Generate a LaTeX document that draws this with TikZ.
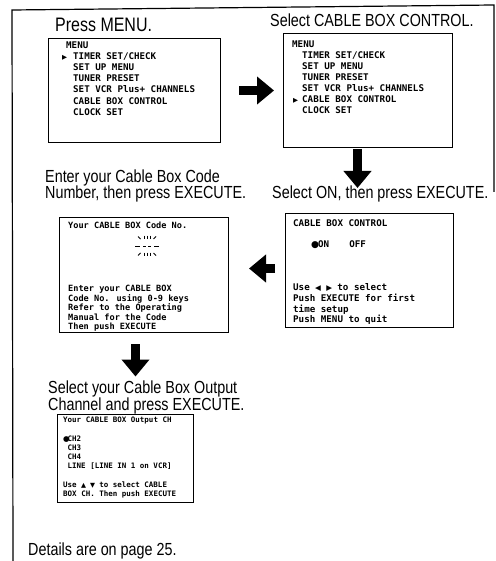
\documentclass[tikz,border=0pt]{standalone}
\usepackage{graphicx}
\usepackage{fontspec}
\setmainfont{Liberation Sans}
\newfontfamily\ttlfont{Liberation Sans}[FakeStretch=0.82]
\newfontfamily\scrfont{DejaVu Sans Mono}
\newfontfamily\symfont{DejaVu Sans}
\usetikzlibrary{arrows.meta}
\newcommand\ptrmark{\makebox[9pt][l]{\symfont\fontsize{6.5}{6.5}\selectfont ▶}}
\newcommand\smallsym[1]{\makebox[5.5pt][c]{\symfont\fontsize{7.5}{7.5}\selectfont #1}}
\tikzset{
  frame/.style={line width=1.2pt},
  scrbox/.style={draw, line width=1pt, inner sep=0pt, anchor=north west},
  scrtext/.style={anchor=north west, inner sep=0pt, align=left},
  ttl/.style={anchor=base west, inner sep=0pt, text height=12pt, text depth=2.5pt,
              font=\ttlfont\fontsize{17.5}{18}\selectfont},
  bigarrow/.style={line width=9pt, -{Triangle[length=17pt 0 0, width=27pt 0 0]}},
  blink/.style={line width=0.8pt}
}
\begin{document}
\begin{tikzpicture}[x=1pt,y=-1pt]
\useasboundingbox (0,0) rectangle (495,561);
\fill[white] (0,0) rectangle (495,561);
% outer frame
\draw[frame] (13,561) -- (12,10) -- (494,5) -- (494,192);

% titles
\node[ttl, font=\ttlfont\fontsize{19.5}{20}\selectfont] (t1) at (55,31.5) {Press MENU.};
\node[ttl] (t2) at (270,26.7) {Select CABLE BOX CONTROL.};
\node[ttl] (t3) at (272,198) {Select ON, then press EXECUTE.};
\node[ttl] (t4a) at (45,182.5) {Enter your Cable Box Code};
\node[ttl] (t4b) at (45,199) {Number, then press EXECUTE.};
\node[ttl] (t5a) at (48,393.5) {Select your Cable Box Output};
\node[ttl] (t5b) at (48,410) {Channel and press EXECUTE.};
\node[ttl] (t6) at (28,555) {Details are on page 25.};

% screens
\node[scrbox, minimum width=172pt, minimum height=104pt] (b1) at (48,38) {};
\node[scrbox, minimum width=169pt, minimum height=114pt] (b2) at (283,33) {};
\node[scrbox, minimum width=168pt, minimum height=114pt] (b3) at (285,213) {};
\node[scrbox, minimum width=169pt, minimum height=115pt] (b4) at (59,217) {};
\node[scrbox, minimum width=136pt, minimum height=88pt] (b5) at (57,414) {};

% screen 1
\node[scrtext, font=\scrfont\bfseries\fontsize{9.2}{11.1}\selectfont] (s1) at (62,40.6)
 {\hspace*{4pt}MENU\strut\\
  \ptrmark\hspace*{2pt}TIMER SET/CHECK\\
  \hspace*{11pt}SET UP MENU\\
  \hspace*{11pt}TUNER PRESET\\
  \hspace*{11pt}SET VCR Plus+ CHANNELS\\
  \hspace*{11pt}CABLE BOX CONTROL\\
  \hspace*{11pt}CLOCK SET};

% screen 2
\node[scrtext, font=\scrfont\bfseries\fontsize{9.2}{11}\selectfont] (s2) at (292,39.7)
 {MENU\strut\\
  \hspace*{10pt}TIMER SET/CHECK\\
  \hspace*{10pt}SET UP MENU\\
  \hspace*{10pt}TUNER PRESET\\
  \hspace*{10pt}SET VCR Plus+ CHANNELS\\
  \makebox[10pt][l]{\hspace*{1pt}{\symfont\fontsize{6.5}{6.5}\selectfont ▶}}CABLE BOX CONTROL\\
  \hspace*{10pt}CLOCK SET};

% screen 3
\node[scrtext, font=\scrfont\bfseries\fontsize{9.2}{10.7}\selectfont] (s3) at (293,218.9)
 {CABLE BOX CONTROL\strut\\
  \\
  \hspace*{18pt}\makebox[7pt][l]{\symfont ●}ON\hspace*{20pt}OFF\\
  \\ \\ \\
  Use \smallsym{◀} \smallsym{▶} to select\\
  Push EXECUTE for first\\
  time setup\\
  Push MENU to quit};

% screen 4
\node[scrtext, font=\scrfont\bfseries\fontsize{8.6}{9.1}\selectfont, anchor=base west] (s4a) at (68,228.2)
 {Your CABLE BOX Code No.};
\node[scrtext, font=\scrfont\bfseries\fontsize{8.6}{9.1}\selectfont] (s4b) at (68,284.5)
 {Enter your CABLE BOX\strut\\
  Code No. using 0-9 keys\\
  Refer to the Operating\\
  Manual for the Code\\
  Then push EXECUTE};
% blinking code mark
\draw[blink] (144,235.5) -- (144,239) (147,235.5) -- (147,239) (150,235.5) -- (150,239);
\draw[blink] (144,252.5) -- (144,256) (147,252.5) -- (147,256) (150,252.5) -- (150,256);
\draw[blink] (135,246) -- (140,246) (143,246) -- (146,246) (148,246) -- (151,246) (154,246) -- (159,246);
\draw[blink] (138,236.5) -- (140.5,239) (156,236.5) -- (153.5,239);
\draw[blink] (138,255.5) -- (140.5,253) (156,255.5) -- (153.5,253);

% screen 5
\node[scrtext, font=\scrfont\bfseries\fontsize{7.5}{9.2}\selectfont] (s5) at (63,416.3)
 {Your CABLE BOX Output CH\strut\\
  \\
  \makebox[4.5pt][l]{\symfont\fontsize{7.5}{7.5}\selectfont ●}CH2\\
  \hspace*{4.5pt}CH3\\
  \hspace*{4.5pt}CH4\\
  \hspace*{4.5pt}LINE [LINE IN 1 on VCR]\\
  \\
  Use \makebox[4.5pt][c]{\symfont\fontsize{6.5}{6.5}\selectfont ▲} \makebox[4.5pt][c]{\symfont\fontsize{6.5}{6.5}\selectfont ▼} to select CABLE\\
  BOX CH. Then push EXECUTE};

% arrows
\draw[bigarrow, shorten <=18pt, shorten >=9pt] (b1.east) -- (b2.west);
\draw[bigarrow, shorten <=1pt, shorten >=10pt] ([xshift=-10.5pt]b2.south) -- ([xshift=-10.5pt]b2.south |- t3.base);
\draw[bigarrow, shorten <=10pt, shorten >=20pt] ([yshift=2pt]b3.west) -- ([yshift=2pt]b3.west -| b4.east);
\draw[bigarrow, shorten <=11pt, shorten >=17pt] ([xshift=-8.5pt]b4.south) -- ([xshift=-8.5pt]b4.south |- t5a.base);
\end{tikzpicture}
\end{document}
